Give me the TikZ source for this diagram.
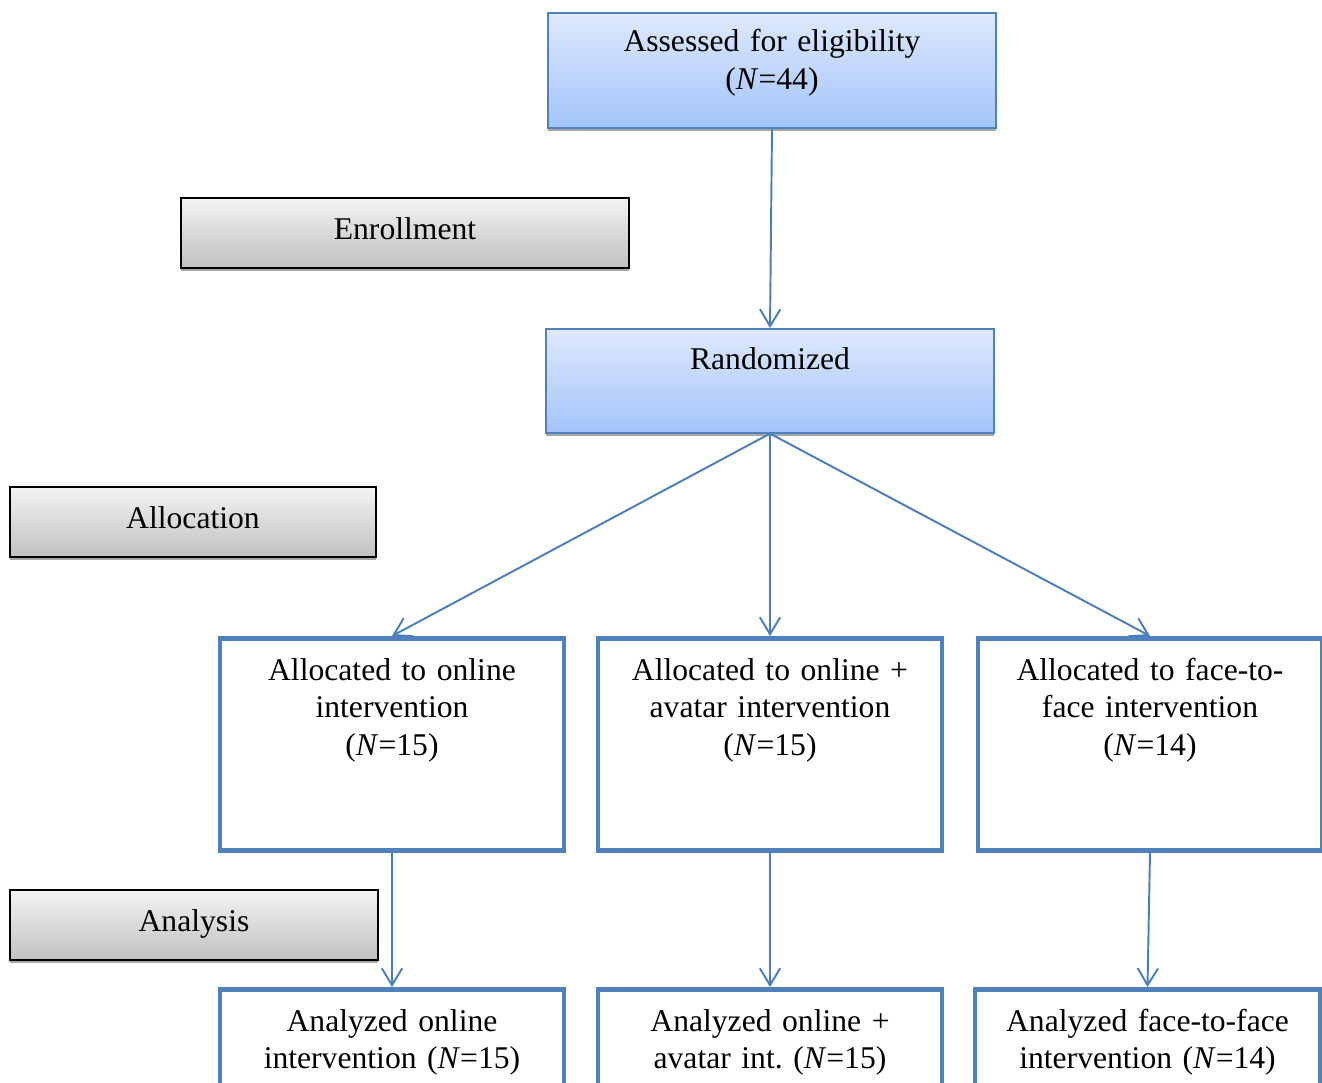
\documentclass[tikz,border=0pt]{standalone}
\usepackage{fontspec}
\setmainfont{Liberation Serif}
\usepackage{xcolor}
\definecolor{boxblue}{RGB}{79,129,189}
\definecolor{arrblue}{RGB}{74,126,187}
\definecolor{bluehi}{RGB}{222,233,252}
\definecolor{bluelo}{RGB}{163,196,250}
\definecolor{grayhi}{RGB}{243,243,243}
\definecolor{graylo}{RGB}{192,192,192}
\usetikzlibrary{arrows.meta,positioning,shadows}
\frenchspacing

\begin{document}
\begin{tikzpicture}[
  flowtext/.style={font=\fontsize{9}{10.7}\selectfont, align=center, inner sep=0pt},
  bluebox/.style={flowtext, rectangle, draw=boxblue, line width=0.45pt,
                  top color=bluehi, bottom color=bluelo, text width=4.48cm,
                  drop shadow={shadow xshift=0pt, shadow yshift=-0.9pt, opacity=0.7, fill=gray}},
  graybox/.style={flowtext, rectangle, draw=black, line width=0.7pt,
                  top color=grayhi, bottom color=graylo,
                  text height=0.41cm, text depth=0.29cm,
                  drop shadow={shadow xshift=0pt, shadow yshift=-0.9pt, opacity=0.7, fill=gray}},
  allocbox/.style={flowtext, rectangle, draw=boxblue, line width=1.3pt, fill=white,
                   text width=3.44cm},
  farr/.style={-{Straight Barb[length=4.8pt,width=5.8pt]}, draw=arrblue, line width=0.55pt}
]
\useasboundingbox (0,0) rectangle (13.22,-10.82);
\clip (0,0) rectangle (13.22,-10.82);

% Flow boxes
\node[bluebox, anchor=north, text height=0.39cm, text depth=0.76cm] (elig) at (7.72,-0.12)
  {Assessed for eligibility\\(\textit{N}=44)};
\node[bluebox, anchor=north, text height=0.41cm, text depth=0.63cm] (rand) at (7.70,-3.28)
  {Randomized};

% Stage labels
\node[graybox, anchor=north, text width=4.48cm] (enrol) at (4.05,-1.97) {Enrollment};
\node[graybox, anchor=north, text width=3.66cm] (alloc) at (1.93,-4.86) {Allocation};
\node[graybox, anchor=north, text width=3.68cm] (anal)  at (1.94,-8.89) {Analysis};

% Allocation boxes
\node[allocbox, anchor=north, text height=0.42cm, text depth=1.70cm] (alon) at (3.92,-6.36)
  {Allocated to online\\intervention\\(\textit{N}=15)};
\node[allocbox, anchor=north, text height=0.42cm, text depth=1.70cm] (alav) at (7.70,-6.36)
  {Allocated to online +\\avatar intervention\\(\textit{N}=15)};
\node[allocbox, anchor=north, text height=0.42cm, text depth=1.70cm] (alff) at (11.50,-6.36)
  {Allocated to face-to-\\face intervention\\(\textit{N}=14)};

% Analysis boxes
\node[allocbox, anchor=north, text height=0.42cm, text depth=1.20cm] (anon) at (3.92,-9.87)
  {Analyzed online\\intervention (\textit{N}=15)};
\node[allocbox, anchor=north, text height=0.42cm, text depth=1.20cm] (anav) at (7.70,-9.87)
  {Analyzed online +\\avatar int. (\textit{N}=15)};
\node[allocbox, anchor=north, text width=3.45cm, text height=0.42cm, text depth=1.20cm] (anff) at (11.475,-9.87)
  {Analyzed face-to-face\\intervention (\textit{N}=14)};

% Arrows
\draw[farr] (elig.south) -- (rand.north);
\draw[farr] (rand.south) -- (alon.north);
\draw[farr] (rand.south) -- (alav.north);
\draw[farr] (rand.south) -- (alff.north);
\draw[farr] (alon.south) -- (anon.north);
\draw[farr] (alav.south) -- (anav.north);
\draw[farr] (alff.south) -- (anff.north);
\end{tikzpicture}
\end{document}
